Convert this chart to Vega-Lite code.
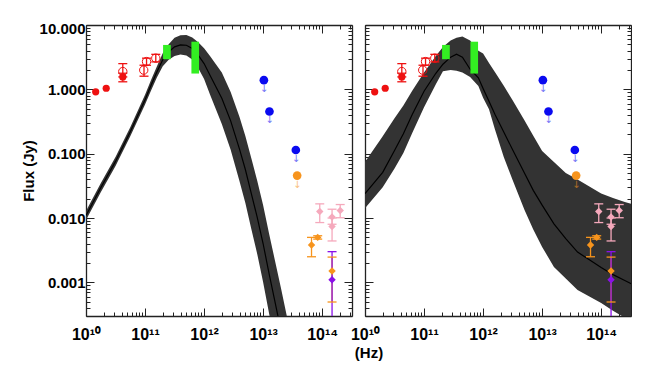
{
"$schema": "https://vega.github.io/schema/vega-lite/v6.json",
"autosize": {"type": "pad"},
"padding": {"left": 21, "top": 20, "right": 0, "bottom": 0},
"bounds": "flush",
"spacing": 13,
"title": {"text": "(Hz)", "orient": "bottom", "anchor": "middle", "frame": "group", "fontSize": 15, "fontWeight": "bold", "font": "Liberation Sans", "color": "black", "offset": 0, "dx": 283},
"config": {
  "font": "Liberation Sans",
  "view": {"stroke": null},
  "axis": {"domainColor": "#222222", "domainWidth": 1.3, "tickColor": "#222222", "tickWidth": 1, "labelFont": "Liberation Sans", "labelFontWeight": "bold", "labelFontSize": 15, "labelColor": "black", "grid": false, "labelFlush": false, "labelOverlap": false, "titleFont": "Liberation Sans", "titleFontWeight": "bold", "titleFontSize": 15, "titleColor": "black"}
},
"datasets": {
  "band90": [
    {"nu": 1e10, "lo": 0.00933, "mid": 0.01096, "hi": 0.01288},
    {"nu": 1.778e10, "lo": 0.02512, "mid": 0.02951, "hi": 0.03467},
    {"nu": 3.162e10, "lo": 0.06457, "mid": 0.07586, "hi": 0.08913},
    {"nu": 5.623e10, "lo": 0.1862, "mid": 0.2188, "hi": 0.257},
    {"nu": 1e11, "lo": 0.5821, "mid": 0.6918, "hi": 0.8222},
    {"nu": 1.259e11, "lo": 0.955, "mid": 1.148, "hi": 1.38},
    {"nu": 1.585e11, "lo": 1.531, "mid": 1.862, "hi": 2.265},
    {"nu": 1.995e11, "lo": 2.291, "mid": 2.884, "hi": 3.631},
    {"nu": 2.512e11, "lo": 2.884, "mid": 3.802, "hi": 5.012},
    {"nu": 3.162e11, "lo": 3.311, "mid": 4.571, "hi": 6.31},
    {"nu": 3.981e11, "lo": 3.467, "mid": 4.898, "hi": 6.918},
    {"nu": 5.012e11, "lo": 3.35, "mid": 4.842, "hi": 6.998},
    {"nu": 6.31e11, "lo": 2.917, "mid": 4.315, "hi": 6.383},
    {"nu": 7.943e11, "lo": 2.138, "mid": 3.388, "hi": 5.37},
    {"nu": 1e12, "lo": 1.445, "mid": 2.512, "hi": 4.365},
    {"nu": 1.259e12, "lo": 0.8318, "mid": 1.66, "hi": 3.311},
    {"nu": 1.585e12, "lo": 0.4898, "mid": 1.096, "hi": 2.455},
    {"nu": 1.995e12, "lo": 0.2884, "mid": 0.7244, "hi": 1.82},
    {"nu": 2.818e12, "lo": 0.1148, "mid": 0.3236, "hi": 0.912},
    {"nu": 3.981e12, "lo": 0.03715, "mid": 0.1175, "hi": 0.3715},
    {"nu": 5.012e12, "lo": 0.01698, "mid": 0.05623, "hi": 0.1862},
    {"nu": 6.31e12, "lo": 0.006761, "mid": 0.02399, "hi": 0.08511},
    {"nu": 7.943e12, "lo": 0.002754, "mid": 0.01023, "hi": 0.03802},
    {"nu": 1e13, "lo": 0.001, "mid": 0.003981, "hi": 0.01585},
    {"nu": 1.259e13, "lo": 0.0003311, "mid": 0.00138, "hi": 0.005754},
    {"nu": 1.585e13, "lo": 0.0001148, "mid": 0.0005012, "hi": 0.002188},
    {"nu": 1.995e13, "lo": 0.00003981, "mid": 0.000182, "hi": 0.0008318},
    {"nu": 2.512e13, "lo": 0.00001318, "mid": 0.0000631, "hi": 0.000302},
    {"nu": 3.162e13, "lo": 0.000004365, "mid": 0.00002188, "hi": 0.0001096}
  ],
  "band515": [
    {"nu": 1e10, "lo": 0.01413, "mid": 0.02399, "hi": 0.07413},
    {"nu": 1.995e10, "lo": 0.0302, "mid": 0.05129, "hi": 0.1862},
    {"nu": 3.162e10, "lo": 0.05888, "mid": 0.1122, "hi": 0.3548},
    {"nu": 4.467e10, "lo": 0.1023, "mid": 0.2042, "hi": 0.5623},
    {"nu": 6.31e10, "lo": 0.2089, "mid": 0.4074, "hi": 0.955},
    {"nu": 1e11, "lo": 0.5248, "mid": 0.9333, "hi": 1.82},
    {"nu": 1.585e11, "lo": 1.202, "mid": 1.778, "hi": 3.311},
    {"nu": 2.089e11, "lo": 1.905, "mid": 2.455, "hi": 4.571},
    {"nu": 2.818e11, "lo": 1.995, "mid": 3.162, "hi": 5.754},
    {"nu": 3.548e11, "lo": 1.95, "mid": 3.516, "hi": 6.31},
    {"nu": 4.467e11, "lo": 1.82, "mid": 3.162, "hi": 6.607},
    {"nu": 6.026e11, "lo": 1.549, "mid": 2.056, "hi": 5.754},
    {"nu": 8.318e11, "lo": 1.122, "mid": 1.514, "hi": 3.981},
    {"nu": 1e12, "lo": 0.7413, "mid": 1.03, "hi": 3.606},
    {"nu": 1.259e12, "lo": 0.4898, "mid": 0.6501, "hi": 2.57},
    {"nu": 1.585e12, "lo": 0.2399, "mid": 0.4093, "hi": 1.862},
    {"nu": 2.239e12, "lo": 0.08913, "mid": 0.2178, "hi": 1.135},
    {"nu": 3.162e12, "lo": 0.0389, "mid": 0.1148, "hi": 0.6761},
    {"nu": 5.012e12, "lo": 0.01349, "mid": 0.05012, "hi": 0.3311},
    {"nu": 7.079e12, "lo": 0.006607, "mid": 0.02692, "hi": 0.1905},
    {"nu": 1e13, "lo": 0.003548, "mid": 0.01585, "hi": 0.1096},
    {"nu": 1.585e13, "lo": 0.001738, "mid": 0.008128, "hi": 0.07413},
    {"nu": 2.512e13, "lo": 0.001148, "mid": 0.004786, "hi": 0.05012},
    {"nu": 3.981e13, "lo": 0.0007586, "mid": 0.002951, "hi": 0.03981},
    {"nu": 6.31e13, "lo": 0.0006026, "mid": 0.002239, "hi": 0.0309},
    {"nu": 1e14, "lo": 0.0004786, "mid": 0.001698, "hi": 0.02399},
    {"nu": 1.585e14, "lo": 0.0003631, "mid": 0.001318, "hi": 0.02042},
    {"nu": 2.512e14, "lo": 0.0002818, "mid": 0.001072, "hi": 0.01778},
    {"nu": 3.548e14, "lo": 0.0002344, "mid": 0.000912, "hi": 0.01622}
  ],
  "green": [
    {"nu1": 2.02e11, "nu2": 2.73e11, "lo": 2.94, "hi": 4.9},
    {"nu1": 6.1e11, "nu2": 8.22e11, "lo": 1.76, "hi": 5.5}
  ],
  "pts": [
    {"nu": 1.46e10, "F": 0.914, "c": "red", "k": "fc"},
    {"nu": 2.2e10, "F": 1.04, "c": "red", "k": "fc"},
    {"nu": 4.2e10, "F": 1.56, "c": "red", "k": "fc"},
    {"nu": 4.2e10, "F": 1.89, "c": "red", "k": "oc"},
    {"nu": 9.5e10, "F": 1.99, "c": "red", "k": "oc"},
    {"nu": 1.06e11, "F": 2.7, "c": "red", "k": "oc"},
    {"nu": 1.52e11, "F": 3.05, "c": "red", "k": "oc"},
    {"nu": 1.03e13, "F": 1.39, "c": "blue", "k": "ul"},
    {"nu": 1.28e13, "F": 0.453, "c": "blue", "k": "ul"},
    {"nu": 3.58e13, "F": 0.114, "c": "blue", "k": "ul"},
    {"nu": 3.77e13, "F": 0.0456, "c": "orange", "k": "ul"},
    {"nu": 6.6e13, "F": 0.0038, "c": "orange", "k": "dm"},
    {"nu": 8.4e13, "F": 0.005, "c": "orange", "k": "dm"},
    {"nu": 1.47e14, "F": 0.0015, "c": "orange", "k": "dm"},
    {"nu": 9.1e13, "F": 0.0126, "c": "pink", "k": "dm"},
    {"nu": 1.47e14, "F": 0.0104, "c": "pink", "k": "dm"},
    {"nu": 1.47e14, "F": 0.0074, "c": "pink", "k": "dm"},
    {"nu": 2.02e14, "F": 0.0131, "c": "pink", "k": "dm"},
    {"nu": 1.47e14, "F": 0.0011, "c": "purple", "k": "dm"}
  ],
  "err": [
    {"nu": 4.2e10, "lo": 1.31, "hi": 1.78, "c": "red"},
    {"nu": 4.2e10, "lo": 1.56, "hi": 2.51, "c": "red"},
    {"nu": 9.6e10, "lo": 1.6, "hi": 2.37, "c": "red"},
    {"nu": 1.06e11, "lo": 2.37, "hi": 3.05, "c": "red"},
    {"nu": 1.52e11, "lo": 2.67, "hi": 3.5, "c": "red"},
    {"nu": 6.6e13, "lo": 0.0025, "hi": 0.005, "c": "orange"},
    {"nu": 8.4e13, "lo": 0.0047, "hi": 0.0053, "c": "orange"},
    {"nu": 1.47e14, "lo": 0.000495, "hi": 0.00247, "c": "orange"},
    {"nu": 9.1e13, "lo": 0.0085, "hi": 0.0166, "c": "pink"},
    {"nu": 1.47e14, "lo": 0.008, "hi": 0.0137, "c": "pink"},
    {"nu": 1.47e14, "lo": 0.0044, "hi": 0.01, "c": "pink"},
    {"nu": 2.02e14, "lo": 0.0101, "hi": 0.0162, "c": "pink"},
    {"nu": 1.47e14, "lo": 0.0001, "hi": 0.003, "c": "purple"}
  ]
},
"hconcat": [
  {
    "width": 266, "height": 291,
    "resolve": {"axis": {"x": "independent", "y": "independent"}},
    "layer": [
      {"data": {"name": "band90"}, "mark": {"type": "area", "color": "#333333", "clip": true},
       "encoding": {
         "x": {"field": "nu", "type": "quantitative", "scale": {"type": "log", "domain": [1e10, 3.2e14], "nice": false},
               "axis": {"orient": "bottom", "title": null, "labelFontSize": 16, "values": [1e10,2e10,3e10,4e10,5e10,6e10,7e10,8e10,9e10,1e11,2e11,3e11,4e11,5e11,6e11,7e11,8e11,9e11,1e12,2e12,3e12,4e12,5e12,6e12,7e12,8e12,9e12,1e13,2e13,3e13,4e13,5e13,6e13,7e13,8e13,9e13,1e14,2e14,3e14],
                        "labelExpr": "abs(log(datum.value)/LN10 - round(log(datum.value)/LN10)) < 1e-6 ? ['10¹⁰','10¹¹','10¹²','10¹³','10¹⁴'][round(log(datum.value)/LN10) - 10] : ''",
                        "tickSize": {"condition": {"test": "abs(log(datum.value)/LN10 - round(log(datum.value)/LN10)) < 1e-6", "value": -8}, "value": -4},
                        "labelPadding": 18}},
         "y": {"field": "hi", "type": "quantitative", "scale": {"type": "log", "domain": [0.0003, 10], "nice": false},
               "axis": {"orient": "left", "title": "Flux (Jy)", "titlePadding": 3, "labelFlush": true, "labelFlushOffset": 4, "values": [0.0003,0.0004,0.0005,0.0006,0.0007,0.0008,0.0009,0.001,0.002,0.003,0.004,0.005,0.006,0.007,0.008,0.009,0.01,0.02,0.03,0.04,0.05,0.06,0.07,0.08,0.09,0.1,0.2,0.3,0.4,0.5,0.6,0.7,0.8,0.9,1,2,3,4,5,6,7,8,9,10],
                        "labelExpr": "abs(log(datum.value)/LN10 - round(log(datum.value)/LN10)) < 1e-6 ? format(datum.value, '.3f') : ''",
                        "tickSize": {"condition": {"test": "abs(log(datum.value)/LN10 - round(log(datum.value)/LN10)) < 1e-6", "value": -8}, "value": -4},
                        "labelPadding": 9}},
         "y2": {"field": "lo"}
       }},
      {"data": {"name": "band90"}, "mark": {"type": "line", "color": "black", "strokeWidth": 1.2, "clip": true},
       "encoding": {
         "x": {"field": "nu", "type": "quantitative", "scale": {"type": "log", "domain": [1e10, 3.2e14], "nice": false},
               "axis": {"orient": "top", "title": null, "labels": false, "values": [1e10,2e10,3e10,4e10,5e10,6e10,7e10,8e10,9e10,1e11,2e11,3e11,4e11,5e11,6e11,7e11,8e11,9e11,1e12,2e12,3e12,4e12,5e12,6e12,7e12,8e12,9e12,1e13,2e13,3e13,4e13,5e13,6e13,7e13,8e13,9e13,1e14,2e14,3e14],
                        "tickSize": {"condition": {"test": "abs(log(datum.value)/LN10 - round(log(datum.value)/LN10)) < 1e-6", "value": -8}, "value": -4}}},
         "y": {"field": "mid", "type": "quantitative", "scale": {"type": "log", "domain": [0.0003, 10], "nice": false},
               "axis": {"orient": "right", "title": null, "labels": false, "values": [0.0003,0.0004,0.0005,0.0006,0.0007,0.0008,0.0009,0.001,0.002,0.003,0.004,0.005,0.006,0.007,0.008,0.009,0.01,0.02,0.03,0.04,0.05,0.06,0.07,0.08,0.09,0.1,0.2,0.3,0.4,0.5,0.6,0.7,0.8,0.9,1,2,3,4,5,6,7,8,9,10],
                        "tickSize": {"condition": {"test": "abs(log(datum.value)/LN10 - round(log(datum.value)/LN10)) < 1e-6", "value": -8}, "value": -4}}}
       }},
      {"data": {"name": "green"}, "mark": {"type": "rect", "color": "#33ee22"},
       "encoding": {
         "x": {"field": "nu1", "type": "quantitative", "axis": null}, "x2": {"field": "nu2"},
         "y": {"field": "lo", "type": "quantitative", "axis": null}, "y2": {"field": "hi"}}},
      {"data": {"name": "err"}, "mark": {"type": "rule", "strokeWidth": 1.3, "clip": true},
       "encoding": {
         "x": {"field": "nu", "type": "quantitative", "axis": null},
         "y": {"field": "lo", "type": "quantitative", "axis": null}, "y2": {"field": "hi"},
         "color": {"field": "c", "type": "nominal", "scale": {"domain": ["red","blue","orange","pink","purple"], "range": ["#ee1111","#0a0af0","#f7941d","#f5a9bc","#8a10e8"]}, "legend": null}}},
      {"data": {"name": "err"}, "mark": {"type": "tick", "orient": "horizontal", "size": 9, "thickness": 1.3, "clip": true, "opacity": 1},
       "encoding": {
         "x": {"field": "nu", "type": "quantitative", "axis": null},
         "y": {"field": "lo", "type": "quantitative", "axis": null},
         "color": {"field": "c", "type": "nominal", "legend": null}}},
      {"data": {"name": "err"}, "mark": {"type": "tick", "orient": "horizontal", "size": 9, "thickness": 1.3, "clip": true, "opacity": 1},
       "encoding": {
         "x": {"field": "nu", "type": "quantitative", "axis": null},
         "y": {"field": "hi", "type": "quantitative", "axis": null},
         "color": {"field": "c", "type": "nominal", "legend": null}}},
      {"data": {"name": "pts"}, "transform": [{"filter": "datum.k == 'fc'"}], "mark": {"type": "point", "shape": "circle", "filled": true, "size": 52, "opacity": 1},
       "encoding": {"x": {"field": "nu", "type": "quantitative", "axis": null}, "y": {"field": "F", "type": "quantitative", "axis": null}, "color": {"field": "c", "type": "nominal", "legend": null}}},
      {"data": {"name": "pts"}, "transform": [{"filter": "datum.k == 'oc'"}], "mark": {"type": "point", "shape": "circle", "filled": false, "size": 70, "strokeWidth": 1, "opacity": 1},
       "encoding": {"x": {"field": "nu", "type": "quantitative", "axis": null}, "y": {"field": "F", "type": "quantitative", "axis": null}, "color": {"field": "c", "type": "nominal", "legend": null}}},
      {"data": {"name": "pts"}, "transform": [{"filter": "datum.k == 'ul'"}], "mark": {"type": "text", "text": "↓", "dy": 9, "fontSize": 10, "font": "DejaVu Sans", "opacity": 0.6},
       "encoding": {"x": {"field": "nu", "type": "quantitative", "axis": null}, "y": {"field": "F", "type": "quantitative", "axis": null}, "color": {"field": "c", "type": "nominal", "legend": null}}},
      {"data": {"name": "pts"}, "transform": [{"filter": "datum.k == 'ul'"}], "mark": {"type": "point", "shape": "circle", "filled": true, "size": 75, "opacity": 1},
       "encoding": {"x": {"field": "nu", "type": "quantitative", "axis": null}, "y": {"field": "F", "type": "quantitative", "axis": null}, "color": {"field": "c", "type": "nominal", "legend": null}}},
      {"data": {"name": "pts"}, "transform": [{"filter": "datum.k == 'dm'"}], "mark": {"type": "point", "shape": "diamond", "filled": true, "size": 55, "opacity": 1, "clip": true},
       "encoding": {"x": {"field": "nu", "type": "quantitative", "axis": null}, "y": {"field": "F", "type": "quantitative", "axis": null}, "color": {"field": "c", "type": "nominal", "legend": null}}},
      {"mark": {"type": "text", "text": "90h", "align": "right", "baseline": "middle", "fontSize": 14, "fontWeight": "bold", "color": "black"},
       "encoding": {"x": {"datum": 2.36e14, "type": "quantitative", "axis": null}, "y": {"datum": 5.07, "type": "quantitative", "axis": null}}}
    ]
  },
  {
    "width": 266, "height": 291,
    "resolve": {"axis": {"x": "independent", "y": "independent"}},
    "layer": [
      {"data": {"name": "band515"}, "mark": {"type": "area", "color": "#333333", "clip": true},
       "encoding": {
         "x": {"field": "nu", "type": "quantitative", "scale": {"type": "log", "domain": [1e10, 3.2e14], "nice": false},
               "axis": {"orient": "bottom", "title": null, "labelFontSize": 16, "values": [1e10,2e10,3e10,4e10,5e10,6e10,7e10,8e10,9e10,1e11,2e11,3e11,4e11,5e11,6e11,7e11,8e11,9e11,1e12,2e12,3e12,4e12,5e12,6e12,7e12,8e12,9e12,1e13,2e13,3e13,4e13,5e13,6e13,7e13,8e13,9e13,1e14,2e14,3e14],
                        "labelExpr": "abs(log(datum.value)/LN10 - round(log(datum.value)/LN10)) < 1e-6 ? ['10¹⁰','10¹¹','10¹²','10¹³','10¹⁴'][round(log(datum.value)/LN10) - 10] : ''",
                        "tickSize": {"condition": {"test": "abs(log(datum.value)/LN10 - round(log(datum.value)/LN10)) < 1e-6", "value": -8}, "value": -4},
                        "labelPadding": 18}},
         "y": {"field": "hi", "type": "quantitative", "scale": {"type": "log", "domain": [0.0003, 10], "nice": false},
               "axis": {"orient": "left", "title": null, "labels": false, "values": [0.0003,0.0004,0.0005,0.0006,0.0007,0.0008,0.0009,0.001,0.002,0.003,0.004,0.005,0.006,0.007,0.008,0.009,0.01,0.02,0.03,0.04,0.05,0.06,0.07,0.08,0.09,0.1,0.2,0.3,0.4,0.5,0.6,0.7,0.8,0.9,1,2,3,4,5,6,7,8,9,10],
                        "tickSize": {"condition": {"test": "abs(log(datum.value)/LN10 - round(log(datum.value)/LN10)) < 1e-6", "value": -8}, "value": -4}}},
         "y2": {"field": "lo"}
       }},
      {"data": {"name": "band515"}, "mark": {"type": "line", "color": "black", "strokeWidth": 1.2, "clip": true},
       "encoding": {
         "x": {"field": "nu", "type": "quantitative", "scale": {"type": "log", "domain": [1e10, 3.2e14], "nice": false},
               "axis": {"orient": "top", "title": null, "labels": false, "values": [1e10,2e10,3e10,4e10,5e10,6e10,7e10,8e10,9e10,1e11,2e11,3e11,4e11,5e11,6e11,7e11,8e11,9e11,1e12,2e12,3e12,4e12,5e12,6e12,7e12,8e12,9e12,1e13,2e13,3e13,4e13,5e13,6e13,7e13,8e13,9e13,1e14,2e14,3e14],
                        "tickSize": {"condition": {"test": "abs(log(datum.value)/LN10 - round(log(datum.value)/LN10)) < 1e-6", "value": -8}, "value": -4}}},
         "y": {"field": "mid", "type": "quantitative", "scale": {"type": "log", "domain": [0.0003, 10], "nice": false},
               "axis": {"orient": "right", "title": null, "labels": false, "values": [0.0003,0.0004,0.0005,0.0006,0.0007,0.0008,0.0009,0.001,0.002,0.003,0.004,0.005,0.006,0.007,0.008,0.009,0.01,0.02,0.03,0.04,0.05,0.06,0.07,0.08,0.09,0.1,0.2,0.3,0.4,0.5,0.6,0.7,0.8,0.9,1,2,3,4,5,6,7,8,9,10],
                        "tickSize": {"condition": {"test": "abs(log(datum.value)/LN10 - round(log(datum.value)/LN10)) < 1e-6", "value": -8}, "value": -4}}}
       }},
      {"data": {"name": "green"}, "mark": {"type": "rect", "color": "#33ee22"},
       "encoding": {
         "x": {"field": "nu1", "type": "quantitative", "axis": null}, "x2": {"field": "nu2"},
         "y": {"field": "lo", "type": "quantitative", "axis": null}, "y2": {"field": "hi"}}},
      {"data": {"name": "err"}, "mark": {"type": "rule", "strokeWidth": 1.3, "clip": true},
       "encoding": {
         "x": {"field": "nu", "type": "quantitative", "axis": null},
         "y": {"field": "lo", "type": "quantitative", "axis": null}, "y2": {"field": "hi"},
         "color": {"field": "c", "type": "nominal", "scale": {"domain": ["red","blue","orange","pink","purple"], "range": ["#ee1111","#0a0af0","#f7941d","#f5a9bc","#8a10e8"]}, "legend": null}}},
      {"data": {"name": "err"}, "mark": {"type": "tick", "orient": "horizontal", "size": 9, "thickness": 1.3, "clip": true, "opacity": 1},
       "encoding": {
         "x": {"field": "nu", "type": "quantitative", "axis": null},
         "y": {"field": "lo", "type": "quantitative", "axis": null},
         "color": {"field": "c", "type": "nominal", "legend": null}}},
      {"data": {"name": "err"}, "mark": {"type": "tick", "orient": "horizontal", "size": 9, "thickness": 1.3, "clip": true, "opacity": 1},
       "encoding": {
         "x": {"field": "nu", "type": "quantitative", "axis": null},
         "y": {"field": "hi", "type": "quantitative", "axis": null},
         "color": {"field": "c", "type": "nominal", "legend": null}}},
      {"data": {"name": "pts"}, "transform": [{"filter": "datum.k == 'fc'"}], "mark": {"type": "point", "shape": "circle", "filled": true, "size": 52, "opacity": 1},
       "encoding": {"x": {"field": "nu", "type": "quantitative", "axis": null}, "y": {"field": "F", "type": "quantitative", "axis": null}, "color": {"field": "c", "type": "nominal", "legend": null}}},
      {"data": {"name": "pts"}, "transform": [{"filter": "datum.k == 'oc'"}], "mark": {"type": "point", "shape": "circle", "filled": false, "size": 70, "strokeWidth": 1, "opacity": 1},
       "encoding": {"x": {"field": "nu", "type": "quantitative", "axis": null}, "y": {"field": "F", "type": "quantitative", "axis": null}, "color": {"field": "c", "type": "nominal", "legend": null}}},
      {"data": {"name": "pts"}, "transform": [{"filter": "datum.k == 'ul'"}], "mark": {"type": "text", "text": "↓", "dy": 9, "fontSize": 10, "font": "DejaVu Sans", "opacity": 0.6},
       "encoding": {"x": {"field": "nu", "type": "quantitative", "axis": null}, "y": {"field": "F", "type": "quantitative", "axis": null}, "color": {"field": "c", "type": "nominal", "legend": null}}},
      {"data": {"name": "pts"}, "transform": [{"filter": "datum.k == 'ul'"}], "mark": {"type": "point", "shape": "circle", "filled": true, "size": 75, "opacity": 1},
       "encoding": {"x": {"field": "nu", "type": "quantitative", "axis": null}, "y": {"field": "F", "type": "quantitative", "axis": null}, "color": {"field": "c", "type": "nominal", "legend": null}}},
      {"data": {"name": "pts"}, "transform": [{"filter": "datum.k == 'dm'"}], "mark": {"type": "point", "shape": "diamond", "filled": true, "size": 55, "opacity": 1, "clip": true},
       "encoding": {"x": {"field": "nu", "type": "quantitative", "axis": null}, "y": {"field": "F", "type": "quantitative", "axis": null}, "color": {"field": "c", "type": "nominal", "legend": null}}},
      {"mark": {"type": "text", "text": "515h", "align": "right", "baseline": "middle", "fontSize": 14, "fontWeight": "bold", "color": "black"},
       "encoding": {"x": {"datum": 2.36e14, "type": "quantitative", "axis": null}, "y": {"datum": 5.07, "type": "quantitative", "axis": null}}}
    ]
  }
]
}
